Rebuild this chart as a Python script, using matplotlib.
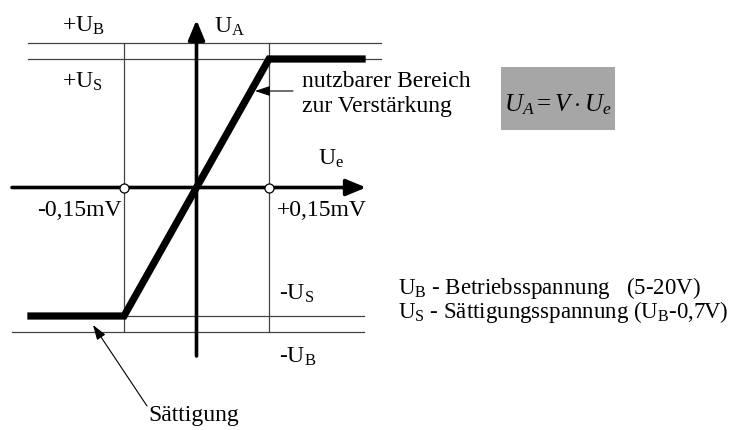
import matplotlib
matplotlib.use("Agg")
import matplotlib.pyplot as plt
from matplotlib.patches import Rectangle

plt.rcParams['font.family'] = ['Liberation Serif', 'DejaVu Serif']
plt.rcParams['mathtext.fontset'] = 'custom'
plt.rcParams['mathtext.rm'] = 'Liberation Serif'
plt.rcParams['mathtext.it'] = 'Liberation Serif:italic'

# transfer characteristic (U_e in mV, U_A in units of U_S)
ue_curve = [-0.35, -0.15, 0.15, 0.35]
ua_curve = [-1.0, -1.0, 1.0, 1.0]
ue_limits = [-0.15, 0.15]
u_s = 1.0
u_b = 1.125

# layout helper: pixel position -> data coords
X0, SX = 196.5, 483.3
Y0, SY = 187.5, 128.5


def P(px, py):
    return (px - X0) / SX, (Y0 - py) / SY


fig = plt.figure(figsize=(7.47, 4.30), dpi=100)
ax = fig.add_axes([0, 0, 1, 1])
ax.set_xlim(P(0, 0)[0], P(747, 0)[0])
ax.set_ylim(P(0, 430)[1], P(0, 0)[1])
ax.axis('off')

thin = dict(color='#444444', lw=0.9)
# horizontal reference lines
ax.plot([P(28, 0)[0], P(381, 0)[0]], [u_b, u_b], **thin)
ax.plot([P(28, 0)[0], P(381, 0)[0]], [u_s, u_s], **thin)
ax.plot([ue_limits[0], P(364, 0)[0]], [-u_s, -u_s], **thin)
ax.plot([P(12, 0)[0], P(364, 0)[0]], [-u_b, -u_b], **thin)
# vertical limit lines
for ue in ue_limits:
    ax.plot([ue, ue], [-u_b, u_b], **thin)

# axes with arrows
axstyle = dict(arrowstyle='-|>,head_length=1.2,head_width=0.5', color='black',
               lw=2.6, shrinkA=0, shrinkB=0)
ax.annotate('', xy=(0, P(0, 20)[1]), xytext=(0, P(0, 356)[1]), arrowprops=axstyle)
ax.annotate('', xy=(P(366, 0)[0], 0), xytext=(P(12, 0)[0], 0), arrowprops=axstyle)

# characteristic
ax.plot(ue_curve, ua_curve, color='black', lw=5.2, solid_capstyle='butt',
        solid_joinstyle='miter', zorder=4)

# limit markers
ax.plot(ue_limits, [0, 0], 'o', ms=6.5, mfc='white', mec='black', mew=0.9, zorder=5)

fs = 17
def T(px, py, s, **kw):
    x, y = P(px, py)
    ax.text(x, y, s, fontsize=kw.pop('fontsize', fs), va='baseline', ha='left', **kw)

T(62, 32, r'+U$_{\mathrm{B}}$')
T(214, 33, r'U$_{\mathrm{A}}$')
T(62, 88, r'+U$_{\mathrm{S}}$')
T(318, 165, r'U$_{\mathrm{e}}$')
T(37, 216, '-0,15mV')
T(277, 216, '+0,15mV')
T(279, 300, r'-U$_{\mathrm{S}}$')
T(279, 363, r'-U$_{\mathrm{B}}$')
T(302, 87, 'nutzbarer Bereich')
T(302, 112, 'zur Verstärkung')
T(398, 294, r'U$_{\mathrm{B}}$ - Betriebsspannung   (5-20V)', fontsize=16.5)
T(398, 318, r'U$_{\mathrm{S}}$ - Sättigungsspannung (U$_{\mathrm{B}}$-0,7V)', fontsize=16.5)
T(148, 421, 'Sättigung')

# formula box
bx, by = P(501, 130)
bx2, by2 = P(615, 67)
ax.add_patch(Rectangle((bx, by), bx2 - bx, by2 - by, color='#a6a6a6', lw=0, zorder=1))
fx, fy = P(558, 111)
ax.text(fx, fy, r'$U_A = V\cdot U_e$', fontsize=18, ha='center', va='baseline', zorder=2)

# annotation arrows
small = dict(arrowstyle='-|>,head_length=0.9,head_width=0.3', color='black', lw=0.8,
             shrinkA=0, shrinkB=0)
ax.annotate('', xy=P(255, 91), xytext=P(293, 91), arrowprops=small, zorder=6)
ax.annotate('', xy=P(93, 325), xytext=P(147, 406), arrowprops=small, zorder=6)

fig.savefig('out.png', dpi=100)
